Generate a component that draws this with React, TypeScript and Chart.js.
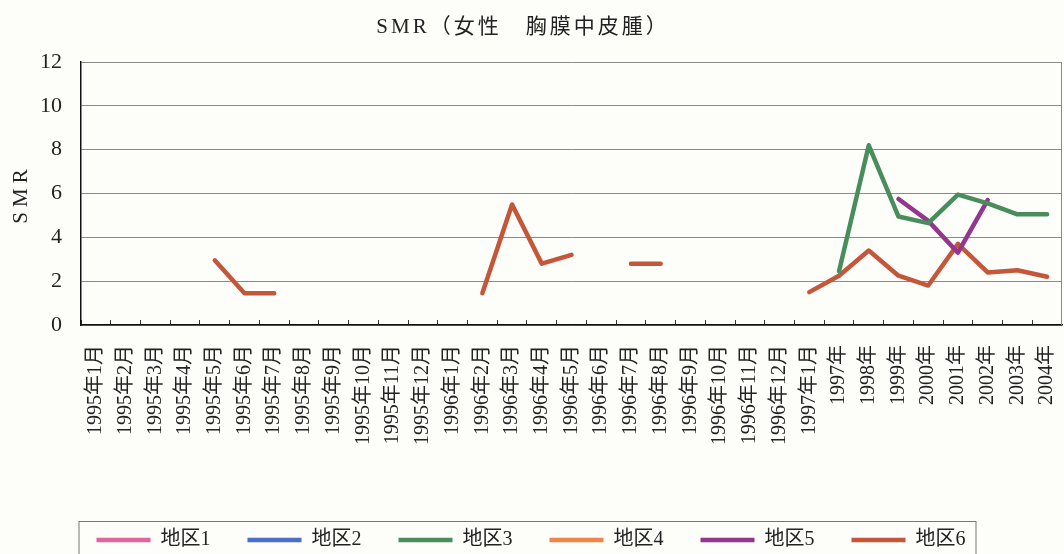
import React, { useEffect, useRef } from "react";
import { Chart, registerables } from "chart.js";

Chart.register(...registerables);

const categories: string[] = [
  "1995年1月", "1995年2月", "1995年3月", "1995年4月", "1995年5月", "1995年6月",
  "1995年7月", "1995年8月", "1995年9月", "1995年10月", "1995年11月", "1995年12月",
  "1996年1月", "1996年2月", "1996年3月", "1996年4月", "1996年5月", "1996年6月",
  "1996年7月", "1996年8月", "1996年9月", "1996年10月", "1996年11月", "1996年12月",
  "1997年1月", "1997年", "1998年", "1999年", "2000年", "2001年", "2002年", "2003年", "2004年",
];

const seriesNames: string[] = ["地区1", "地区2", "地区3", "地区4", "地区5", "地区6"];
const seriesColors: string[] = ["#E0659F", "#4B6FC6", "#4A8D5C", "#F0854A", "#94368C", "#C4573A"];

const region1: (number | null)[] = [];
const region2: (number | null)[] = [];
const region3: (number | null)[] = [
  null, null, null, null, null, null, null, null, null, null, null, null,
  null, null, null, null, null, null, null, null, null, null, null, null,
  null, 2.45, 8.2, 4.95, 4.65, 5.95, 5.55, 5.05, 5.05,
];
const region4: (number | null)[] = [];
const region5: (number | null)[] = [
  null, null, null, null, null, null, null, null, null, null, null, null,
  null, null, null, null, null, null, null, null, null, null, null, null,
  null, null, null, 5.75, 4.75, 3.3, 5.7, null, null,
];
const region6: (number | null)[] = [
  null, null, null, null, 2.95, 1.45, 1.45, null, null, null, null, null,
  null, 1.45, 5.5, 2.8, 3.2, null, 2.8, 2.8, null, null, null, null,
  1.5, 2.25, 3.4, 2.25, 1.8, 3.7, 2.4, 2.5, 2.2,
];
const seriesValues = [region1, region2, region3, region4, region5, region6];

const yTicks = { min: 0, max: 12, step: 2 };
const chartTitle = "SMR（女性　胸膜中皮腫）";
const yAxisTitle = "SMR";

const FONT = '"Liberation Serif", "Noto Sans CJK JP", serif';

const decorPlugin = {
  id: "decor",
  beforeDatasetsDraw(chart: any) {
    const { ctx, chartArea } = chart;
    ctx.save();
    ctx.strokeStyle = "#8a8a8a";
    ctx.lineWidth = 1;
    ctx.beginPath();
    ctx.moveTo(chartArea.right - 0.5, chartArea.top);
    ctx.lineTo(chartArea.right - 0.5, chartArea.bottom);
    ctx.stroke();
    ctx.restore();
  },
  afterDraw(chart: any) {
    const { ctx } = chart;
    ctx.save();
    ctx.fillStyle = "#222";
    ctx.textAlign = "center";
    ctx.textBaseline = "middle";
    ctx.font = `21px ${FONT}`;
    ctx.letterSpacing = "3px";
    ctx.fillText(chartTitle, 523, 27);
    ctx.restore();

    ctx.save();
    ctx.fillStyle = "#222";
    ctx.textAlign = "center";
    ctx.textBaseline = "middle";
    ctx.font = `21px ${FONT}`;
    ctx.letterSpacing = "5px";
    ctx.translate(21, 196);
    ctx.rotate(-Math.PI / 2);
    ctx.fillText(yAxisTitle, 2, 0);
    ctx.restore();

    const boxes = chart.legend && chart.legend.legendHitBoxes;
    if (boxes && boxes.length) {
      const first = boxes[0];
      const last = boxes[boxes.length - 1];
      const left = first.left - 18;
      const right = last.left + last.width + 10;
      const top = first.top - 9;
      ctx.save();
      ctx.strokeStyle = "#777";
      ctx.lineWidth = 1;
      ctx.strokeRect(left + 0.5, top + 0.5, right - left, 60);
      ctx.restore();
    }
  },
};

export default function App() {
  const canvasRef = useRef<HTMLCanvasElement | null>(null);

  useEffect(() => {
    if (!canvasRef.current) return;
    const chart = new Chart(canvasRef.current, {
      type: "line",
      data: {
        labels: categories,
        datasets: seriesNames.map((name, i) => ({
          label: name,
          data: seriesValues[i],
          borderColor: seriesColors[i],
          backgroundColor: seriesColors[i],
          borderWidth: 4.5,
          borderCapStyle: "round" as const,
          borderJoinStyle: "round" as const,
          pointRadius: 0,
          pointHoverRadius: 0,
          pointStyle: "line" as const,
          tension: 0,
          spanGaps: false,
        })),
      },
      options: {
        responsive: false,
        animation: false,
        layout: { padding: { top: 62, right: 2, left: 0, bottom: 0 } },
        plugins: {
          title: { display: false },
          tooltip: { enabled: false },
          legend: {
            position: "bottom",
            labels: {
              usePointStyle: true,
              pointStyle: "line",
              pointStyleWidth: 54,
              padding: 37,
              color: "#222",
              font: { size: 20, family: FONT },
            },
          },
        },
        scales: {
          x: {
            offset: true,
            afterFit: (s: any) => {
              s.height = 168;
              s.paddingLeft = 0;
              s.paddingRight = 0;
            },
            grid: {
              display: true,
              offset: true,
              drawOnChartArea: false,
              drawTicks: true,
              tickLength: -5,
              color: "#333",
              lineWidth: 1,
            },
            border: { display: true, color: "#111", width: 1.5 },
            ticks: {
              autoSkip: false,
              minRotation: 90,
              maxRotation: 90,
              padding: 25,
              color: "#222",
              font: { size: 20, family: FONT },
            },
          },
          y: {
            min: yTicks.min,
            max: yTicks.max,
            afterFit: (s: any) => {
              s.width = 81;
            },
            grid: { color: "#8a8a8a", lineWidth: 1, drawTicks: false },
            border: { display: true, color: "#111", width: 1.5 },
            ticks: {
              stepSize: yTicks.step,
              padding: 19,
              color: "#222",
              font: { size: 22, family: FONT },
            },
          },
        },
      },
      plugins: [decorPlugin],
    });
    return () => chart.destroy();
  }, []);

  return (
    <div
      style={{
        position: "absolute",
        left: 0,
        top: 0,
        width: 1064,
        height: 554,
        overflow: "hidden",
        background: "#fdfdfa",
      }}
    >
      <canvas ref={canvasRef} width={1064} height={560} style={{ display: "block" }} />
    </div>
  );
}
